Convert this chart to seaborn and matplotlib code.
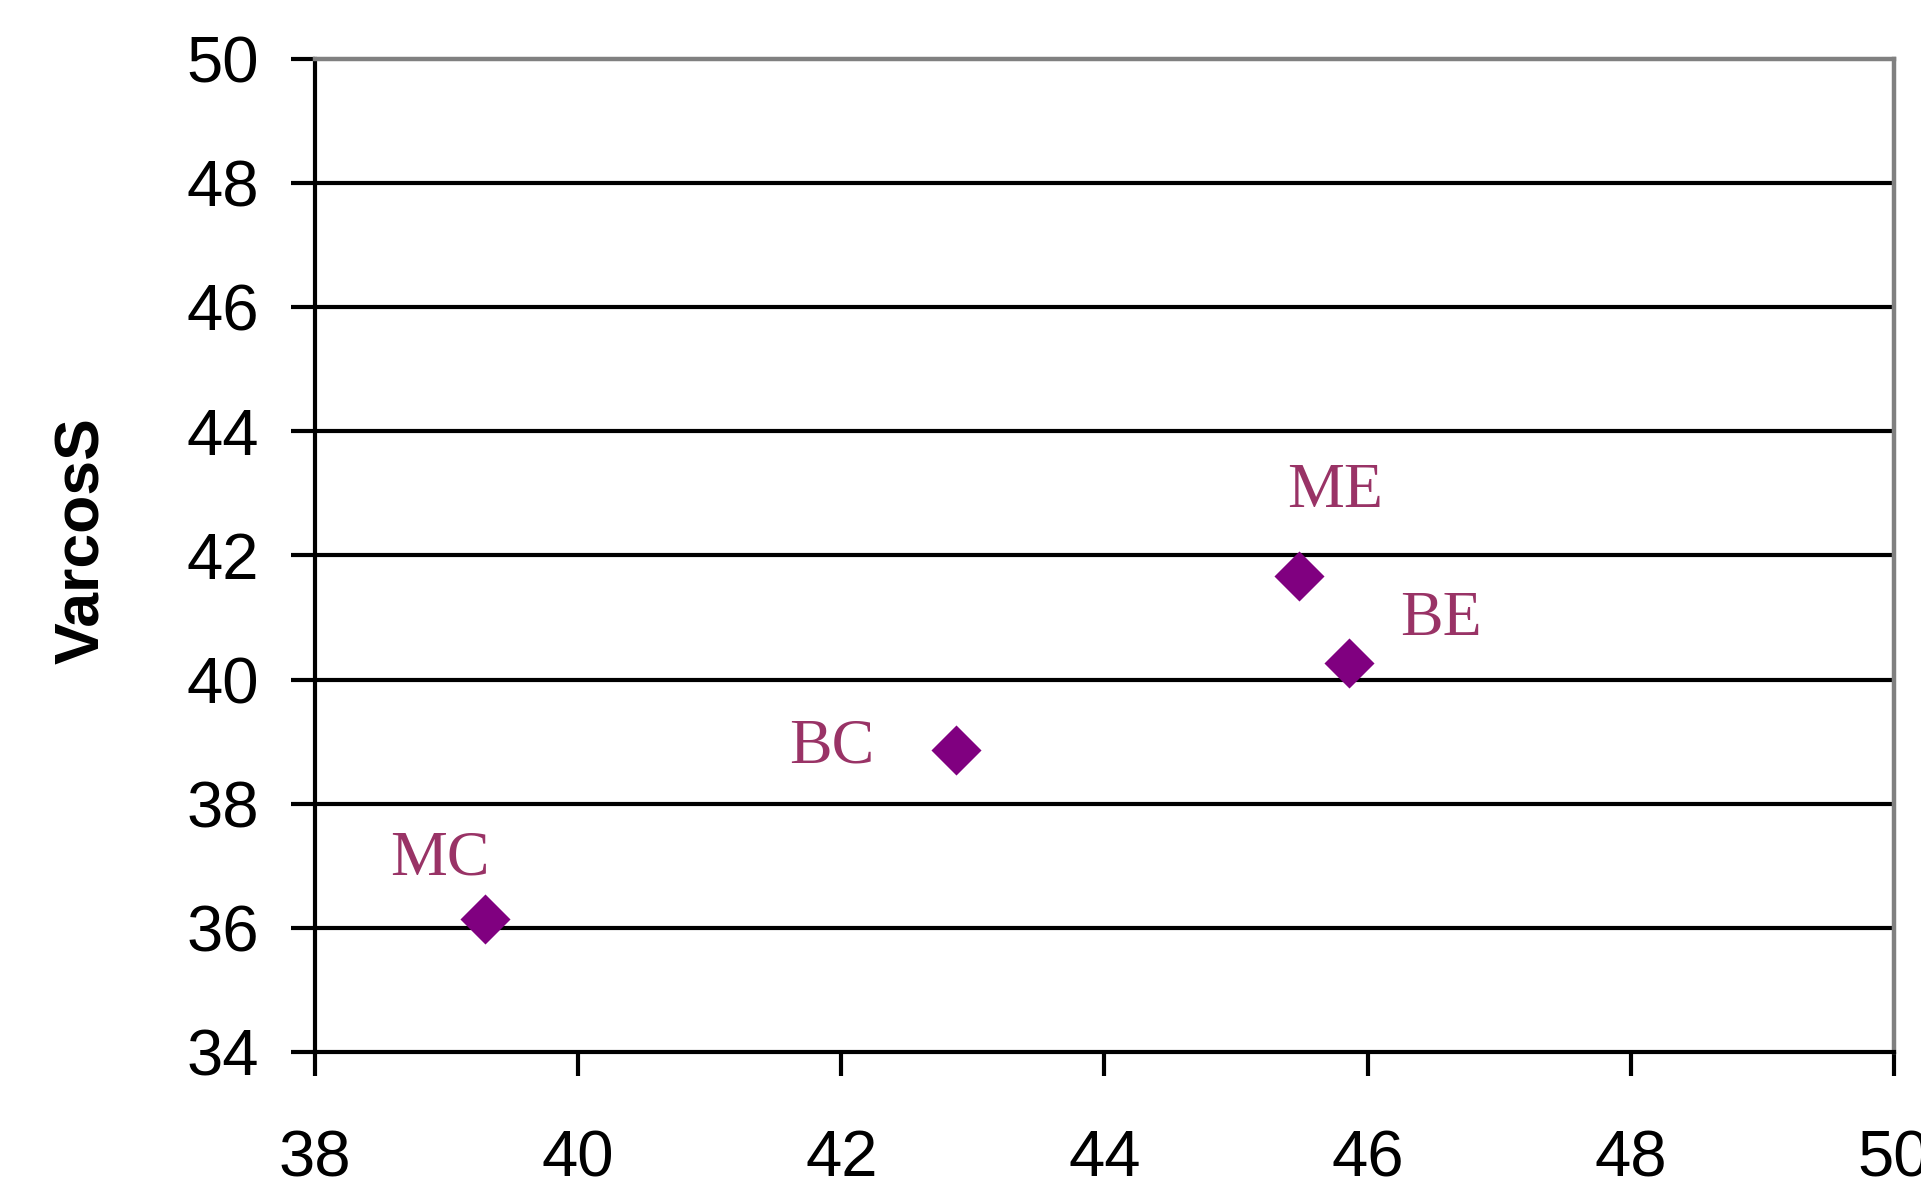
import matplotlib
matplotlib.use("Agg")
import matplotlib.pyplot as plt
import seaborn as sns
import pandas as pd

# Group scores
groups = ["MC", "BC", "ME", "BE"]
x_vals = [39.29, 42.87, 45.48, 45.86]
y_vals = [36.14, 38.87, 41.67, 40.27]

x_ticks = [38, 40, 42, 44, 46, 48, 50]
y_ticks = [34, 36, 38, 40, 42, 44, 46, 48, 50]
y_label = "VarcosS"

# label offsets (points) relative to each marker
label_offsets = {"MC": (-32, 32), "BC": (-89, -9.5), "ME": (26, 50), "BE": (66, 20)}

sns.set_theme(style="white")
plt.rcParams["font.family"] = ["Liberation Sans", "DejaVu Sans"]

df = pd.DataFrame({"group": groups, "x": x_vals, "y": y_vals})

fig = plt.figure(figsize=(19.21, 11.94), dpi=100)
ax = fig.add_axes([0.16398, 0.11893, 0.98594 - 0.16398, 0.95059 - 0.11893])

ax.set_xlim(38, 50)
ax.set_ylim(34, 50)

# horizontal gridlines
for yv in y_ticks[1:-1]:
    ax.axhline(yv, color="black", lw=3.0, zorder=1)

sns.scatterplot(data=df, x="x", y="y", marker="D", s=650, color="#800080",
                edgecolor="#800080", linewidth=0, ax=ax, zorder=3, legend=False)

for g, xv, yv in zip(groups, x_vals, y_vals):
    dx, dy = label_offsets[g]
    ax.annotate(g, (xv, yv), xytext=(dx, dy), textcoords="offset points",
                ha="center", va="baseline", fontsize=46, color="#993366",
                family=["Liberation Serif", "DejaVu Serif"], zorder=4)

ax.set_xticks(x_ticks)
ax.set_yticks(y_ticks)
ax.set_xticklabels([str(t) for t in x_ticks])
ax.set_yticklabels([str(t) for t in y_ticks])
ax.tick_params(axis="both", direction="out", length=17.5, width=3.0, color="black",
               labelsize=47, labelcolor="black")
ax.tick_params(axis="x", pad=38, bottom=True)
ax.tick_params(axis="y", pad=23, left=True)

ax.set_xlabel("")
ax.set_ylabel(y_label, fontsize=45, fontweight="bold", va="center", color="black")
ax.yaxis.set_label_coords(-0.147, 0.5146)

for side in ["left", "bottom"]:
    ax.spines[side].set_color("black")
    ax.spines[side].set_linewidth(3.0)
for side in ["top", "right"]:
    ax.spines[side].set_color("#808080")
    ax.spines[side].set_linewidth(3.2)
    ax.spines[side].set_visible(True)

for t in ax.get_xticklabels() + ax.get_yticklabels():
    t.set_clip_on(False)

fig.savefig("out.png", dpi=100, facecolor="white")
